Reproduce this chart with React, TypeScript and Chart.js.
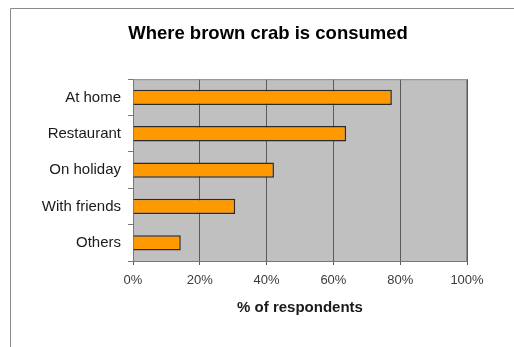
import React, { useEffect, useRef } from "react";
import { Chart, registerables } from "chart.js";

Chart.register(...registerables);

const categories: string[] = ["At home", "Restaurant", "On holiday", "With friends", "Others"];
const respondents: number[] = [77.5, 63.8, 42.2, 30.6, 14.3];
const tickValues: number[] = [0, 20, 40, 60, 80, 100];
const chartTitle = "Where brown crab is consumed";
const xTitle = "% of respondents";

const FONT = "'Liberation Sans', Arial, sans-serif";

const decorPlugin = {
  id: "decor",
  afterLayout(chart: any) {
    // center the title over the framed region like the original
    if (chart.titleBlock) {
      chart.titleBlock.left = 69;
      chart.titleBlock.right = chart.chartArea.right;
      chart.titleBlock.width = chart.titleBlock.right - chart.titleBlock.left;
    }
  },
  beforeDraw(chart: any) {
    const { ctx, chartArea } = chart;
    ctx.save();
    ctx.fillStyle = "#ffffff";
    ctx.fillRect(0, 0, chart.width, chart.height);
    ctx.strokeStyle = "#8a8a8a";
    ctx.lineWidth = 1;
    ctx.beginPath();
    ctx.moveTo(10.5, chart.height + 2);
    ctx.lineTo(10.5, 8.5);
    ctx.lineTo(chart.width + 2, 8.5);
    ctx.stroke();
    ctx.fillStyle = "#c0c0c0";
    ctx.fillRect(chartArea.left, chartArea.top, chartArea.right - chartArea.left, chartArea.bottom - chartArea.top);
    ctx.restore();
  },
  afterDatasetsDraw(chart: any) {
    const { ctx, chartArea } = chart;
    ctx.save();
    ctx.strokeStyle = "#8c8c8c";
    ctx.lineWidth = 1;
    ctx.beginPath();
    ctx.moveTo(chartArea.left, chartArea.top + 0.5);
    ctx.lineTo(chartArea.right - 0.5, chartArea.top + 0.5);
    ctx.lineTo(chartArea.right - 0.5, chartArea.bottom);
    ctx.stroke();
    ctx.restore();
  },
};

export default function App() {
  const ref = useRef<HTMLCanvasElement | null>(null);
  useEffect(() => {
    if (!ref.current) return;
    const chart = new Chart(ref.current, {
      type: "bar",
      data: {
        labels: categories,
        datasets: [
          {
            data: respondents,
            backgroundColor: "#ff9900",
            borderColor: "#2b2b2b",
            borderWidth: 1.5,
            barPercentage: 0.42,
            categoryPercentage: 1,
          },
        ],
      },
      options: {
        indexAxis: "y",
        responsive: false,
        animation: false,
        layout: { padding: { left: 10, right: 47, top: 23, bottom: 0 } },
        plugins: {
          legend: { display: false },
          tooltip: { enabled: false },
          title: {
            display: true,
            text: chartTitle,
            color: "#000000",
            font: { family: FONT, size: 18.5, weight: "bold", lineHeight: 1.2 },
            padding: { top: 0, bottom: 34 },
          },
        },
        scales: {
          x: {
            type: "linear",
            min: 0,
            max: 100,
            afterBuildTicks: (scale: any) => {
              scale.ticks = tickValues.map((v) => ({ value: v }));
            },
            afterFit: (scale: any) => {
              scale.height = 86;
            },
            ticks: {
              color: "#3a3a3a",
              font: { family: FONT, size: 13 },
              padding: 8,
              maxRotation: 0,
              callback: (v: any) => v + "%",
            },
            grid: {
              color: "#5a5a5a",
              lineWidth: 1,
              drawOnChartArea: true,
              drawTicks: true,
              tickLength: 4,
            },
            border: { display: true, color: "#777777", width: 1 },
            title: {
              display: true,
              text: xTitle,
              color: "#1a1a1a",
              font: { family: FONT, size: 15, weight: "bold", lineHeight: 1.2 },
              padding: { top: 0, bottom: 30 },
            },
          },
          y: {
            type: "category",
            afterFit: (scale: any) => {
              scale.width = 123;
            },
            ticks: {
              color: "#1a1a1a",
              font: { family: FONT, size: 15 },
              padding: 7,
            },
            grid: {
              offset: true,
              color: "#777777",
              drawOnChartArea: false,
              drawTicks: true,
              tickLength: 5,
            },
            border: { display: true, color: "#777777", width: 1 },
          },
        },
      },
      plugins: [decorPlugin],
    });
    return () => chart.destroy();
  }, []);
  return (
    <div style={{ position: "fixed", left: 0, top: 0, width: 514, height: 347, background: "#fff" }}>
      <canvas ref={ref} width={514} height={347} style={{ display: "block" }} />
    </div>
  );
}
